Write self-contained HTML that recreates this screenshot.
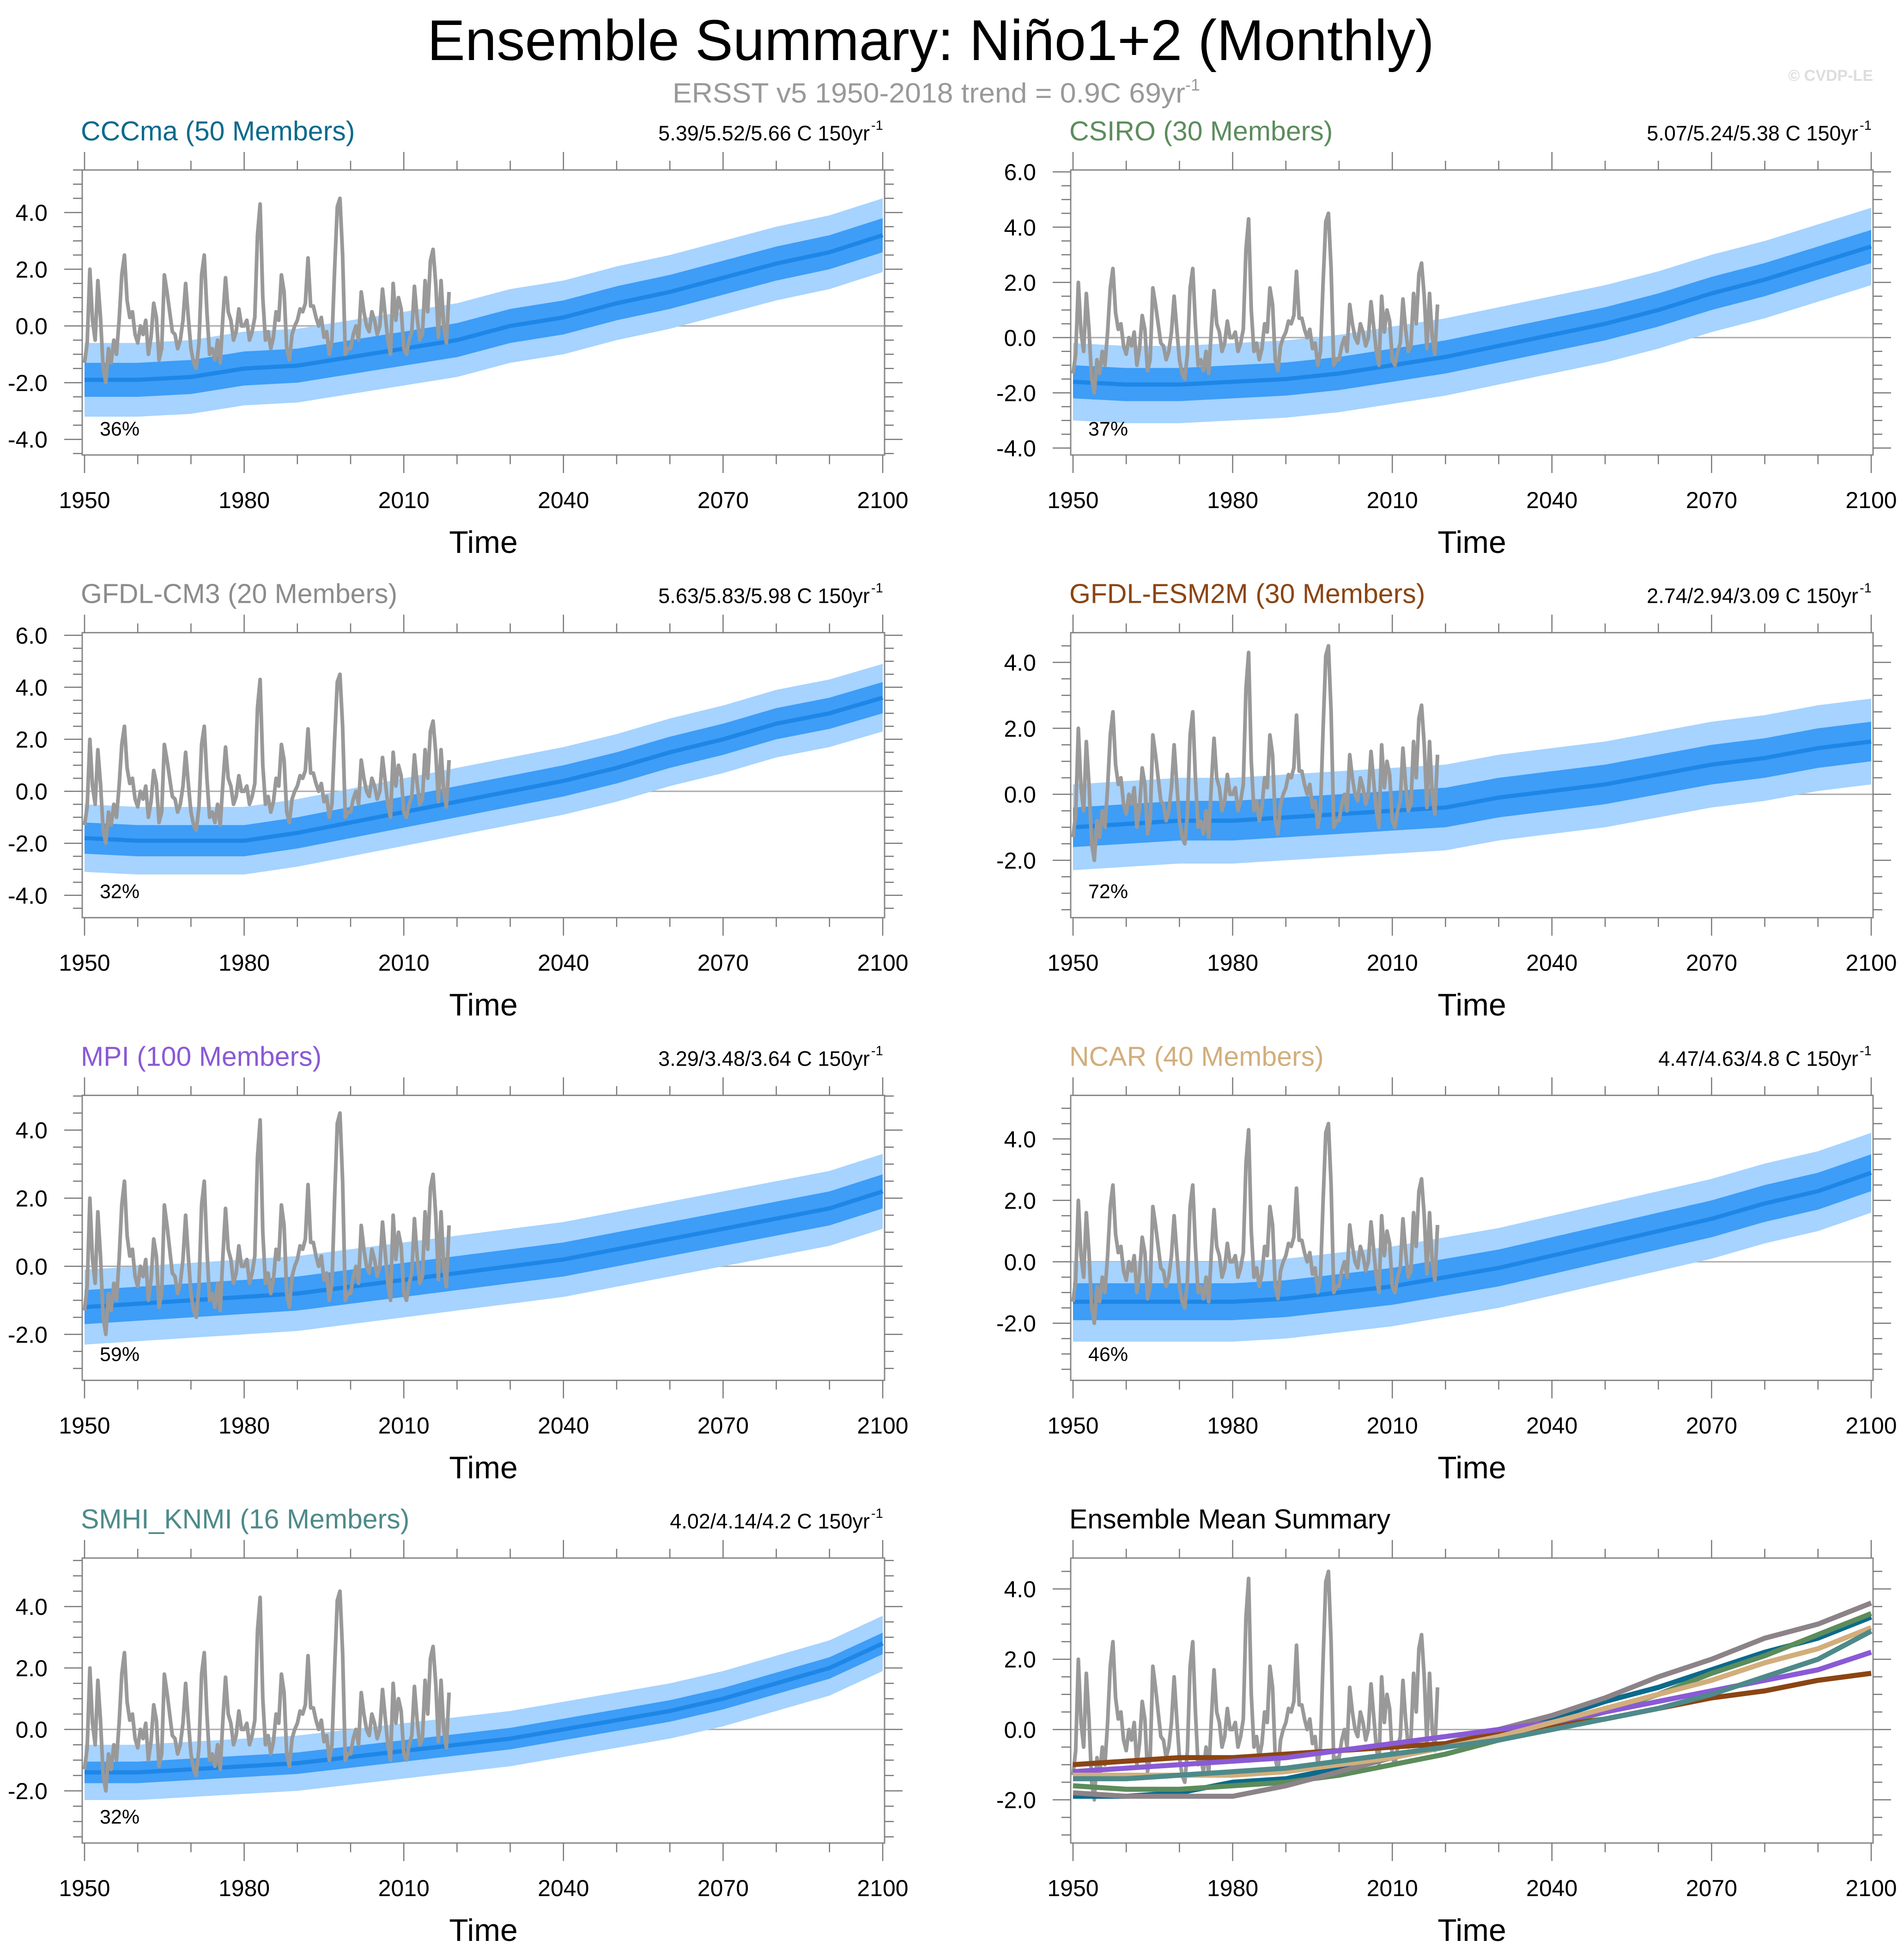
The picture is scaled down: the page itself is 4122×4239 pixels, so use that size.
<!DOCTYPE html>
<html><head><meta charset="utf-8">
<style>
html,body{margin:0;padding:0;background:#fff;}
svg{display:block;font-family:"Liberation Sans",sans-serif;}
</style></head>
<body>
<svg id="fig" width="4122" height="4239" viewBox="0 0 4122 4239" xmlns="http://www.w3.org/2000/svg">
<rect width="4122" height="4239" fill="#fff"/>
<text x="2015" y="130" text-anchor="middle" font-size="124" textLength="2180" lengthAdjust="spacingAndGlyphs">Ensemble Summary: Niño1+2 (Monthly)</text>
<text x="1456" y="222" font-size="60" fill="#999"><tspan textLength="1110" lengthAdjust="spacingAndGlyphs">ERSST v5 1950-2018 trend = 0.9C 69yr</tspan><tspan font-size="36" dy="-26">-1</tspan></text>
<text x="4055" y="175" text-anchor="end" font-size="34" font-weight="bold" fill="#ddd">© CVDP-LE</text>
<g id="panels"></g>
</svg>
<script>
// Years at which ensemble values are given (decadal)
const years = [1950,1960,1970,1980,1990,2000,2010,2020,2030,2040,2050,2060,2070,2080,2090,2100];
const xTicks = [1950,1980,2010,2040,2070,2100];
// Ensemble means per model
const meanCCCma = [-1.9,-1.9,-1.8,-1.5,-1.4,-1.1,-0.8,-0.5,0.0,0.3,0.8,1.2,1.7,2.2,2.6,3.2];
const meanCSIRO = [-1.6,-1.7,-1.7,-1.6,-1.5,-1.3,-1.0,-0.7,-0.3,0.1,0.5,1.0,1.6,2.1,2.7,3.3];
const meanCM3 = [-1.8,-1.9,-1.9,-1.9,-1.6,-1.2,-0.8,-0.4,0.0,0.4,0.9,1.5,2.0,2.6,3.0,3.6];
const meanESM2M = [-1.0,-0.9,-0.8,-0.8,-0.7,-0.6,-0.5,-0.4,-0.1,0.1,0.3,0.6,0.9,1.1,1.4,1.6];
const meanMPI = [-1.2,-1.1,-1.0,-0.9,-0.8,-0.6,-0.4,-0.2,0.0,0.2,0.5,0.8,1.1,1.4,1.7,2.2];
const meanNCAR = [-1.3,-1.3,-1.3,-1.3,-1.2,-1.0,-0.8,-0.5,-0.2,0.2,0.6,1.0,1.4,1.9,2.3,2.9];
const meanSMHI = [-1.4,-1.4,-1.3,-1.2,-1.1,-0.9,-0.7,-0.5,-0.3,0.0,0.3,0.6,1.0,1.5,2.0,2.8];
// Half-widths of outer (min/max) and inner spread
const outerSpread = [1.3,1.4,1.3,1.3,1.1,1.3,0.9];
const innerSpread = [0.6,0.6,0.6,0.6,0.5,0.6,0.35];
// Observed ERSST v5 (semi-annual, starting 1950.0)
const obsStart = 1950;
const obsVals = [-1.3,-0.6,2.0,0.2,-0.5,1.6,0.3,-1.5,-2.0,-0.8,-1.3,-0.5,-1.0,0.2,1.8,2.5,0.9,0.3,0.5,-0.3,
-0.6,0.0,-0.3,0.2,-1.0,-0.4,0.8,0.3,-1.2,-0.8,1.8,1.2,0.5,-0.2,-0.3,-0.8,-0.5,0.2,1.5,0.3,
-0.8,-1.3,-1.5,-0.6,1.8,2.5,0.5,-1.0,-0.8,-1.2,-0.5,-1.3,0.3,1.7,0.5,0.2,-0.5,-0.2,0.6,0.0,
0.0,0.2,-0.5,-0.2,0.3,3.2,4.3,1.0,-0.5,-0.2,-0.8,-0.4,0.5,0.2,1.8,1.2,-0.8,-1.2,-0.3,0.0,
0.2,0.6,0.5,0.8,2.4,0.7,0.7,0.3,0.0,0.3,-0.4,-0.2,-1.0,-0.5,2.0,4.2,4.5,2.5,-1.0,-0.8,
-0.8,-0.3,0.0,-0.5,1.2,0.5,0.0,-0.2,0.5,0.2,-0.3,0.0,1.3,0.4,-0.5,-1.0,1.5,0.2,1.0,0.6,
-0.8,-1.0,-0.5,-0.2,1.4,0.3,-0.5,-0.3,1.6,0.5,2.3,2.7,1.5,-0.4,1.6,0.0,-0.6,1.2];
// Panel meta
const modelNames = ["CCCma (50 Members)","CSIRO (30 Members)","GFDL-CM3 (20 Members)","GFDL-ESM2M (30 Members)","MPI (100 Members)","NCAR (40 Members)","SMHI_KNMI (16 Members)"];
const modelColors = ["#0b6a8c","#5c8c5c","#8c8c8c","#8b4513","#8a5ad6","#d2ae7c","#4e8a8a"];
const summaryColors = ["#0b6a8c","#5c8c5c","#8c8388","#8b4513","#8a5ad6","#d2ae7c","#4e8a8a"];
const statLabels = ["5.39/5.52/5.66 C 150yr","5.07/5.24/5.38 C 150yr","5.63/5.83/5.98 C 150yr","2.74/2.94/3.09 C 150yr","3.29/3.48/3.64 C 150yr","4.47/4.63/4.8 C 150yr","4.02/4.14/4.2 C 150yr"];
const pctLabels = ["36%","37%","32%","72%","59%","46%","32%"];
const yTop = [5.5,6.07,6.1,4.9,5.02,5.42,5.58,4.88];
const yBot = [-4.55,-4.25,-4.86,-3.74,-3.35,-3.86,-3.7,-3.23];
const yTickLists = [[4,2,0,-2,-4],[6,4,2,0,-2,-4],[6,4,2,0,-2,-4],[4,2,0,-2],[4,2,0,-2],[4,2,0,-2],[4,2,0,-2],[4,2,0,-2]];
const allMeans = [meanCCCma,meanCSIRO,meanCM3,meanESM2M,meanMPI,meanNCAR,meanSMHI];

const NS="http://www.w3.org/2000/svg";
const root=document.getElementById('panels');
function mk(tag,attrs,parent){const e=document.createElementNS(NS,tag);for(const k in attrs)e.setAttribute(k,attrs[k]);(parent||root).appendChild(e);return e;}
function interp(arr,yr){const i=Math.min(Math.floor((yr-1950)/10),years.length-2);const t=(yr-years[i])/10;return arr[i]+(arr[i+1]-arr[i])*t;}

const W=1737,H=617;
for(let p=0;p<8;p++){
  const col=p%2,row=Math.floor(p/2);
  const x0=col?2318:178, y0=368+row*1001.7;
  const xs=yr=>x0+5+(yr-1950)/150*(W-9);
  const ys=v=>y0+(yTop[p]-v)/(yTop[p]-yBot[p])*H;
  const g=mk('g',{});
  
  
  const t=mk('text',{x:x0-3,y:y0-64,'font-size':59,fill:p<7?modelColors[p]:'#000'},g);
  t.textContent=p<7?modelNames[p]:'Ensemble Mean Summary';
  
  
  if(p<7){
    const s=mk('text',{x:x0+1705,y:y0-64,'font-size':45,'text-anchor':'end'},g);
    s.textContent=statLabels[p];
    
    
    const sup=mk('text',{x:x0+1708,y:y0-87,'font-size':29},g);
    sup.textContent='-1';
    
    
  }
  const z=mk('line',{x1:x0,x2:x0+W,y1:ys(0),y2:ys(0),stroke:'#aaa','stroke-width':3},g);
  
  
  if(p<7){
    const m=allMeans[p];
    const yrs=[];for(let y=1950;y<=2100;y+=1)yrs.push(y);
    const band=(w)=>yrs.map(y=>xs(y)+','+ys(interp(m,y)+w)).join(' ')+' '+yrs.slice().reverse().map(y=>xs(y)+','+ys(interp(m,y)-w)).join(' ');
    const ob=mk('polygon',{points:band(outerSpread[p]),fill:'#a6d3ff'},g);
    
    
    const ib=mk('polygon',{points:band(innerSpread[p]),fill:'#3d9df7'},g);
    
    
    const ml=mk('polyline',{points:years.map((y,i)=>xs(y)+','+ys(m[i])).join(' '),fill:'none',stroke:'#1e86e6','stroke-width':9},g);
    
    
  }
  const ol=mk('polyline',{points:obsVals.map((v,i)=>xs(obsStart+i*0.5)+','+ys(v)).join(' '),fill:'none',stroke:'#999','stroke-width':8,'stroke-linejoin':'round'},g);
  
  
  if(p===7){
    for(let k=0;k<7;k++){
      const l=mk('polyline',{points:years.map((y,i)=>xs(y)+','+ys(allMeans[k][i])).join(' '),fill:'none',stroke:summaryColors[k],'stroke-width':11},g);
      
      
    }
  }
  const fr=mk('rect',{x:x0,y:y0,width:W,height:H,fill:'none',stroke:'#888','stroke-width':3},g);
  
  
  for(let yr=1950;yr<=2100;yr+=10){
    const maj=(yr-1950)%30===0, L=maj?39:20, X=xs(yr);
    mk('line',{x1:X,x2:X,y1:y0+H,y2:y0+H+L,stroke:'#777','stroke-width':2.5},g);
    mk('line',{x1:X,x2:X,y1:y0,y2:y0-L,stroke:'#777','stroke-width':2.5},g);
  }
  xTicks.forEach(yr=>{
    const tl=mk('text',{x:xs(yr),y:y0+H+115,'font-size':50,'text-anchor':'middle'},g);
    tl.textContent=yr;
    
    
  });
  const xt=mk('text',{x:x0+W/2,y:y0+H+212,'font-size':68,'text-anchor':'middle'},g);
  xt.textContent='Time';
  
  
  for(let v=Math.ceil(yBot[p]*2)/2;v<=yTop[p];v+=0.5){
    const maj=Math.abs(v%2)<1e-6, L=maj?39:20, Y=ys(v);
    mk('line',{x1:x0,x2:x0-L,y1:Y,y2:Y,stroke:'#777','stroke-width':2.5},g);
    mk('line',{x1:x0+W,x2:x0+W+L,y1:Y,y2:Y,stroke:'#777','stroke-width':2.5},g);
  }
  yTickLists[p].forEach(v=>{
    const tl=mk('text',{x:x0-75,y:ys(v)+18,'font-size':50,'text-anchor':'end'},g);
    tl.textContent=v.toFixed(1);
    
    
  });
  if(p<7){
    const pc=mk('text',{x:x0+38,y:y0+575,'font-size':43},g);
    pc.textContent=pctLabels[p];
    
    
  }
}
</script>
</body></html>
